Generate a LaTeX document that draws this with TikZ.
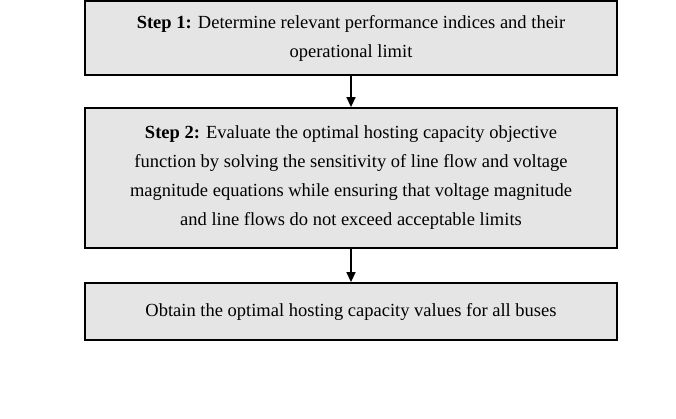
\documentclass[tikz,border=0pt]{standalone}
\usepackage{fontspec}
\setmainfont{Liberation Serif}
\usetikzlibrary{arrows.meta}
\begin{document}
\begin{tikzpicture}[x=1pt,y=-1pt,
  stepbox/.style={draw=black, line width=1.8pt, fill=black!10,
    minimum width=532pt, align=center, inner sep=0pt,
    font=\fontsize{18.5}{29}\selectfont},
  flow/.style={line width=1.5pt, -{Triangle[length=10pt,width=9pt]}}]
\useasboundingbox (0,0) rectangle (676,419);
% the three stages of the procedure
\node[stepbox, minimum height=74pt] (s1) at (351,38)
  {\textbf{Step 1:} Determine relevant performance indices and their\\
   operational limit};
\node[stepbox, minimum height=140pt] (s2) at (351,178)
  {\textbf{Step 2:} Evaluate the optimal hosting capacity objective\\
   function by solving the sensitivity of line flow and voltage\\
   magnitude equations while ensuring that voltage magnitude\\
   and line flows do not exceed acceptable limits};
\node[stepbox, minimum height=57pt] (s3) at (351,311.5)
  {Obtain the optimal hosting capacity values for all buses};
% connectors
\draw[flow] (s1) -- (s2);
\draw[flow] (s2) -- (s3);
\end{tikzpicture}
\end{document}
